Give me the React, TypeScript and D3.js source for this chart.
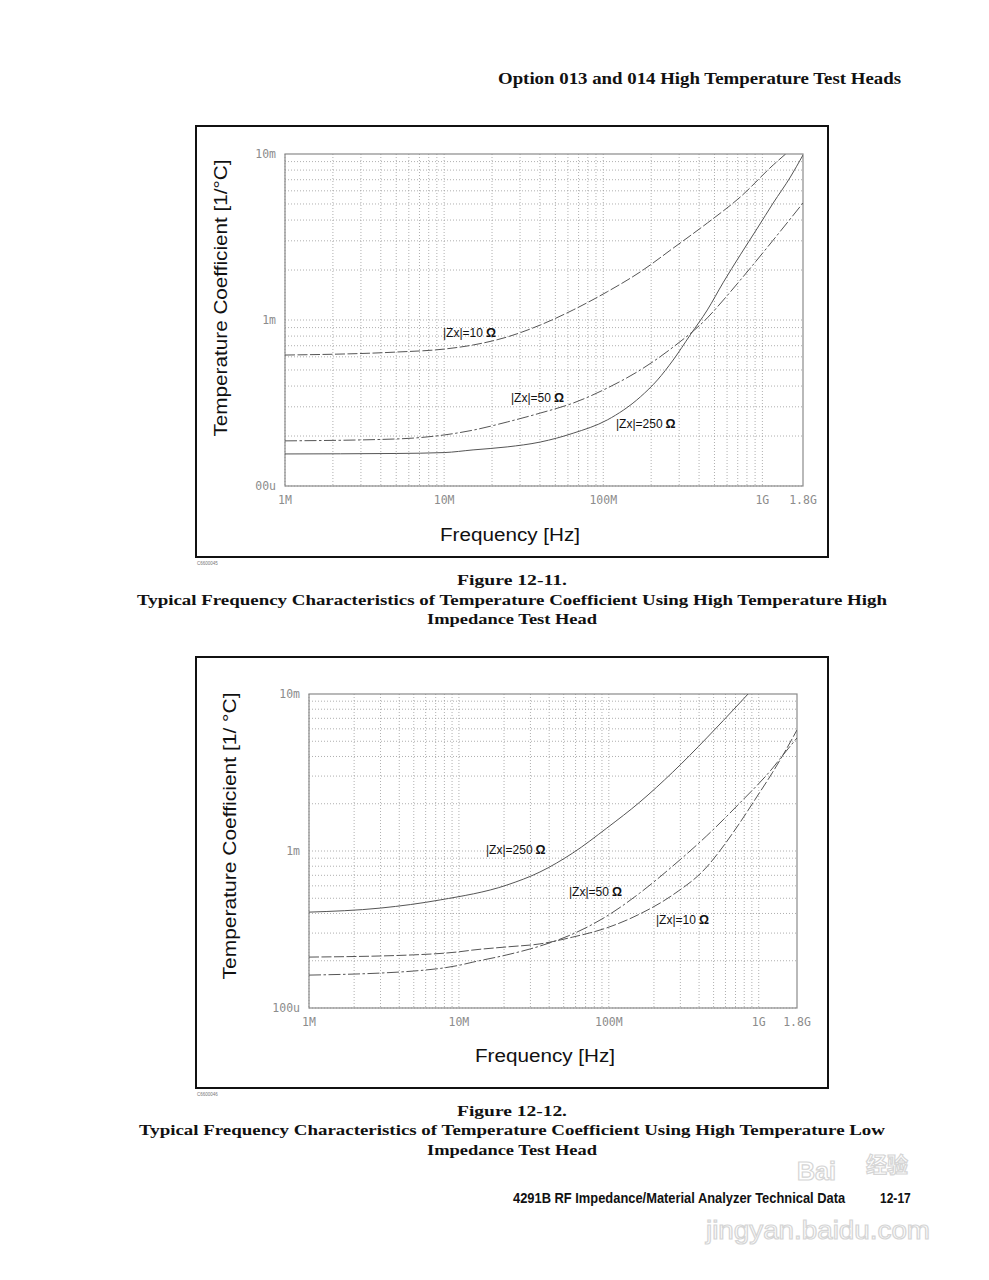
import React from "react";
import * as d3 from "d3";

// ---------- Data (frequency in MHz, temperature coefficient in m[1/°C]) ----------
const xTickValues = [1e6, 1e7, 1e8, 1e9, 1.8e9];
const xTickLabels = ["1M", "10M", "100M", "1G", "1.8G"];
const yTickValues = [1e-2, 1e-3, 1e-4];
const yTickLabelsFig11 = ["10m", "1m", "00u"];
const yTickLabelsFig12 = ["10m", "1m", "100u"];

// Figure 12-11 (high impedance test head)
const fig11Zx10Freq = [1, 5, 10, 15.2, 24.9, 40.2, 64.7, 106, 171, 275, 451, 727, 1170, 1400];
const fig11Zx10Val = [0.615, 0.641, 0.668, 0.707, 0.79, 0.933, 1.15, 1.48, 1.95, 2.71, 3.84, 5.51, 8.59, 10.0];
const fig11Zx50Freq = [1, 5, 10, 15.2, 24.9, 40.2, 64.7, 106, 171, 275, 451, 569, 727, 1170, 1800];
const fig11Zx50Val = [0.187, 0.192, 0.203, 0.217, 0.243, 0.275, 0.316, 0.389, 0.5, 0.687, 1.03, 1.32, 1.74, 3.03, 5.07];
const fig11Zx250Freq = [1, 5, 10, 15.2, 24.9, 40.2, 64.7, 106, 171, 219, 275, 352, 451, 569, 727, 931, 1170, 1500, 1800];
const fig11Zx250Val = [0.156, 0.157, 0.159, 0.165, 0.172, 0.184, 0.208, 0.25, 0.344, 0.435, 0.574, 0.813, 1.15, 1.69, 2.47, 3.58, 5.07, 7.27, 9.86];

// Figure 12-12 (low impedance test head)
const fig12Zx250Freq = [1, 3, 7.5, 20.9, 34.7, 57.5, 97, 161, 267, 450, 747, 898];
const fig12Zx250Val = [0.408, 0.433, 0.488, 0.607, 0.735, 0.971, 1.4, 2.05, 3.18, 5.25, 8.77, 10.6];
const fig12Zx50Freq = [1, 5, 10, 12.4, 20.9, 34.7, 57.5, 97, 161, 267, 450, 747, 1240, 1450, 1800];
const fig12Zx50Val = [0.162, 0.172, 0.187, 0.196, 0.218, 0.248, 0.296, 0.385, 0.54, 0.802, 1.25, 2.02, 3.38, 4.08, 5.25];
const fig12Zx10Freq = [1, 5, 10, 12.4, 20.9, 34.7, 57.5, 97, 161, 267, 450, 575, 747, 970, 1240, 1450, 1800];
const fig12Zx10Val = [0.211, 0.218, 0.228, 0.234, 0.245, 0.256, 0.283, 0.324, 0.397, 0.525, 0.791, 1.06, 1.51, 2.21, 3.18, 4.08, 5.9];

const seriesNames = ["|Zx|=10", "|Zx|=50", "|Zx|=250"];

type Series = { name: string; freq: number[]; val: number[]; dash: string; label: [number, number] };

const LINE_DASH = { "|Zx|=10": "10,2.5", "|Zx|=50": "12,2.5,2.5,2.5", "|Zx|=250": "none" } as Record<string, string>;

function Chart({
  frame, plot, series, yLabels, yTitle, xTitlePos, yTitlePos, yTitleLen, code,
}: {
  frame: { x: number; y: number; w: number; h: number };
  plot: { l: number; t: number; r: number; b: number };
  series: Series[];
  yLabels: string[];
  yTitle: string;
  xTitlePos: [number, number];
  yTitlePos: [number, number];
  yTitleLen: number;
  code: string;
}) {
  const x = d3.scaleLog().domain([1e6, 1.8e9]).range([plot.l, plot.r]);
  const y = d3.scaleLog().domain([1e-4, 1e-2]).range([plot.b, plot.t]);
  const id = "clip" + frame.y;

  const vGrid: number[] = [];
  [1e6, 1e7, 1e8, 1e9].forEach((d) => {
    for (let k = 1; k <= 9; k++) if (k * d < 1.8e9) vGrid.push(k * d);
  });
  const hGrid: number[] = [];
  [1e-4, 1e-3].forEach((d) => {
    for (let k = 1; k <= 9; k++) hGrid.push(k * d);
  });

  const line = d3
    .line<[number, number]>()
    .x((d) => x(d[0] * 1e6))
    .y((d) => y(d[1] * 1e-3))
    .curve(d3.curveMonotoneX);

  const tickFont = "'DejaVu Sans Mono', monospace";

  return (
    <g>
      <rect x={frame.x} y={frame.y} width={frame.w} height={frame.h} fill="#fff" stroke="#111" strokeWidth={2} />
      <clipPath id={id}>
        <rect x={plot.l} y={plot.t} width={plot.r - plot.l} height={plot.b - plot.t} />
      </clipPath>
      {vGrid.map((f, i) => (
        <line key={"v" + i} x1={x(f)} x2={x(f)} y1={plot.t} y2={plot.b} stroke="#9a9a9a" strokeWidth={0.8} strokeDasharray="1,2" />
      ))}
      {hGrid.map((v, i) => (
        <line key={"h" + i} x1={plot.l} x2={plot.r} y1={y(v)} y2={y(v)} stroke="#9a9a9a" strokeWidth={0.8} strokeDasharray="1,2" />
      ))}
      <rect x={plot.l} y={plot.t} width={plot.r - plot.l} height={plot.b - plot.t} fill="none" stroke="#8a8a8a" strokeWidth={1.2} />
      <g clipPath={`url(#${id})`}>
        {series.map((s) => (
          <path
            key={s.name}
            d={line(s.freq.map((f, i) => [f, s.val[i]] as [number, number])) || ""}
            fill="none"
            stroke="#555"
            strokeWidth={1}
            strokeDasharray={s.dash}
          />
        ))}
      </g>
      {series.map((s) => (
        <text key={"l" + s.name} x={s.label[0]} y={s.label[1]} fontFamily="'Liberation Sans', Arial, sans-serif" fontSize={12} fill="#111">
          {s.name}
          <tspan dx={3} fontWeight="bold" fontSize={12.5}>Ω</tspan>
        </text>
      ))}
      {xTickValues.map((v, i) => (
        <text key={"xt" + i} x={x(v)} y={plot.b + 18} textAnchor="middle" fontFamily={tickFont} fontSize={11.5} fill="#8c8c8c">
          {xTickLabels[i]}
        </text>
      ))}
      {yTickValues.map((v, i) => (
        <text key={"yt" + i} x={plot.l - 9} y={y(v) + 4} textAnchor="end" fontFamily={tickFont} fontSize={11.5} fill="#8c8c8c">
          {yLabels[i]}
        </text>
      ))}
      <text x={xTitlePos[0]} y={xTitlePos[1]} textAnchor="middle" fontFamily="'Liberation Sans', Arial, sans-serif" fontSize={18} fill="#111" textLength={140} lengthAdjust="spacingAndGlyphs">
        Frequency [Hz]
      </text>
      <text
        transform={`translate(${yTitlePos[0]},${yTitlePos[1]}) rotate(-90)`}
        textAnchor="middle"
        fontFamily="'Liberation Sans', Arial, sans-serif"
        fontSize={18}
        fill="#111"
        textLength={yTitleLen}
        lengthAdjust="spacingAndGlyphs"
      >
        {yTitle}
      </text>
      <text x={frame.x + 1} y={frame.y + frame.h + 8} fontFamily="'Liberation Sans', Arial, sans-serif" fontSize={4.5} fill="#777">
        {code}
      </text>
    </g>
  );
}

export default function App() {
  const fig11: Series[] = [
    { name: seriesNames[0], freq: fig11Zx10Freq, val: fig11Zx10Val, dash: LINE_DASH["|Zx|=10"], label: [443, 337] },
    { name: seriesNames[1], freq: fig11Zx50Freq, val: fig11Zx50Val, dash: LINE_DASH["|Zx|=50"], label: [511, 402] },
    { name: seriesNames[2], freq: fig11Zx250Freq, val: fig11Zx250Val, dash: LINE_DASH["|Zx|=250"], label: [616, 428] },
  ];
  const fig12: Series[] = [
    { name: seriesNames[2], freq: fig12Zx250Freq, val: fig12Zx250Val, dash: LINE_DASH["|Zx|=250"], label: [486, 854] },
    { name: seriesNames[1], freq: fig12Zx50Freq, val: fig12Zx50Val, dash: LINE_DASH["|Zx|=50"], label: [569, 896] },
    { name: seriesNames[0], freq: fig12Zx10Freq, val: fig12Zx10Val, dash: LINE_DASH["|Zx|=10"], label: [656, 924] },
  ];

  const serif = "'Liberation Serif', 'Times New Roman', serif";
  const capSize = 15.5;
  const footScale = 0.86;

  return (
    <svg width={989} height={1280} viewBox="0 0 989 1280" style={{ position: "absolute", left: 0, top: 0, display: "block", background: "#fff" }}>
      <rect x={0} y={0} width={989} height={1280} fill="#fff" />
      <text x={901} y={84} textAnchor="end" fontFamily={serif} fontWeight="bold" fontSize={16} fill="#111" textLength={403} lengthAdjust="spacingAndGlyphs">
        Option 013 and 014 High Temperature Test Heads
      </text>

      <Chart
        frame={{ x: 196, y: 126, w: 632, h: 431 }}
        plot={{ l: 285, t: 154, r: 803, b: 486 }}
        series={fig11}
        yLabels={yTickLabelsFig11}
        yTitle="Temperature Coefficient [1/°C]"
        xTitlePos={[510, 541]}
        yTitlePos={[227, 298]}
        yTitleLen={277}
        code="C6600045"
      />
      <text x={512} y={585} textAnchor="middle" fontFamily={serif} fontWeight="bold" fontSize={capSize} fill="#111" textLength={110} lengthAdjust="spacingAndGlyphs">
        Figure 12-11.
      </text>
      <text x={512} y={605} textAnchor="middle" fontFamily={serif} fontWeight="bold" fontSize={capSize} fill="#111" textLength={750} lengthAdjust="spacingAndGlyphs">
        Typical Frequency Characteristics of Temperature Coefficient Using High Temperature High
      </text>
      <text x={512} y={624} textAnchor="middle" fontFamily={serif} fontWeight="bold" fontSize={capSize} fill="#111" textLength={170} lengthAdjust="spacingAndGlyphs">
        Impedance Test Head
      </text>

      <Chart
        frame={{ x: 196, y: 657, w: 632, h: 431 }}
        plot={{ l: 309, t: 694, r: 797, b: 1008 }}
        series={fig12}
        yLabels={yTickLabelsFig12}
        yTitle="Temperature Coefficient [1/ °C]"
        xTitlePos={[545, 1062]}
        yTitlePos={[236, 836]}
        yTitleLen={287}
        code="C6600046"
      />
      <text x={512} y={1116} textAnchor="middle" fontFamily={serif} fontWeight="bold" fontSize={capSize} fill="#111" textLength={110} lengthAdjust="spacingAndGlyphs">
        Figure 12-12.
      </text>
      <text x={512} y={1135} textAnchor="middle" fontFamily={serif} fontWeight="bold" fontSize={capSize} fill="#111" textLength={746} lengthAdjust="spacingAndGlyphs">
        Typical Frequency Characteristics of Temperature Coefficient Using High Temperature Low
      </text>
      <text x={512} y={1155} textAnchor="middle" fontFamily={serif} fontWeight="bold" fontSize={capSize} fill="#111" textLength={170} lengthAdjust="spacingAndGlyphs">
        Impedance Test Head
      </text>

      <g transform={`translate(513,1203) scale(${footScale},1)`}>
        <text x={0} y={0} fontFamily="'Liberation Sans', Arial, sans-serif" fontWeight="bold" fontSize={15} fill="#111">
          4291B RF Impedance/Material Analyzer Technical Data
        </text>
        <text x={(880 - 513) / footScale} y={0} fontFamily="'Liberation Sans', Arial, sans-serif" fontWeight="bold" fontSize={14} fill="#111">
          12-17
        </text>
      </g>

      {/* watermark */}
      <g opacity={0.75}>
        <text x={797} y={1180} fontFamily="'Liberation Sans', Arial, sans-serif" fontWeight="bold" fontSize={25} fill="#fff" stroke="#c8c8c8" strokeWidth={1.2} fillOpacity={0.6}>
          Bai
        </text>
        <text x={866} y={1172} fontFamily="'Noto Sans CJK SC', sans-serif" fontWeight="bold" fontSize={21} fill="#fff" stroke="#c8c8c8" strokeWidth={1.2} fillOpacity={0.6}>
          经验
        </text>
        <text x={706} y={1239} fontFamily="'Liberation Sans', Arial, sans-serif" fontSize={26} fill="#fff" stroke="#c8c8c8" strokeWidth={1.2} textLength={224} lengthAdjust="spacingAndGlyphs">
          jingyan.baidu.com
        </text>
      </g>
    </svg>
  );
}
